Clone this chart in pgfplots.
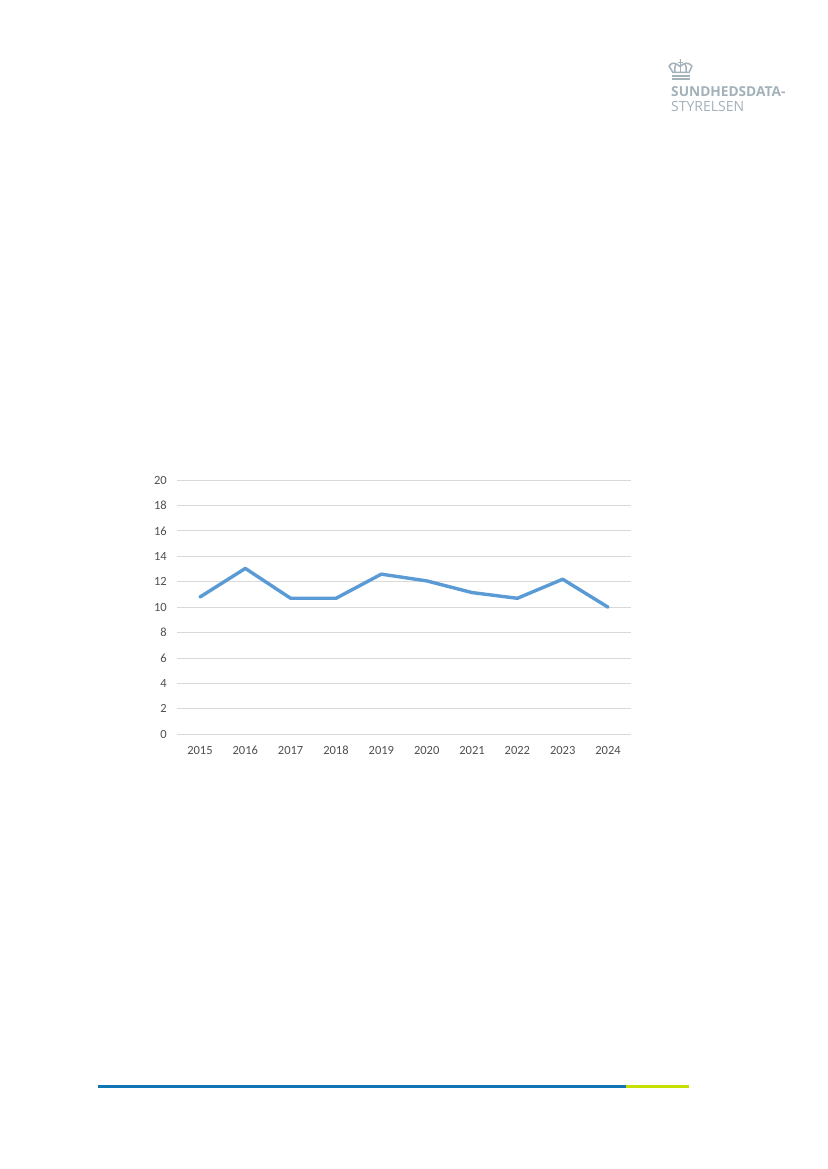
\documentclass[border=0pt]{standalone}
\usepackage{fontspec}
\setmainfont{Carlito}
\newfontfamily\logofont{Open Sans}
\usepackage{pgfplots}
\pgfplotsset{compat=1.18}
\definecolor{linjeblaa}{HTML}{5B9BD5}
\definecolor{gitter}{HTML}{D9D9D9}
\definecolor{ticktekst}{HTML}{505050}
\definecolor{logograa}{HTML}{A3B1BA}
\definecolor{sidefodblaa}{HTML}{0F75B5}
\definecolor{sidefodgroen}{HTML}{C4E000}
\begin{document}
\begin{tikzpicture}[x=1pt,y=1pt]
% page, 1px = 1pt
\path[fill=white] (0,0) rectangle (827,1169);
\begin{axis}[
	at={(177.3pt,434.7pt)},
	anchor=south west,
	scale only axis,
	width=453.4pt,
	height=254.2pt,
	xmin=-0.5, xmax=9.5,
	ymin=0, ymax=20,
	xtick={0,...,9},
	xticklabels={2015,2016,2017,2018,2019,2020,2021,2022,2023,2024},
	ytick={0,2,...,20},
	ymajorgrids,
	grid style={gitter, line width=1pt},
	axis line style={draw=none},
	major tick length=0pt,
	tick label style={font=\fontsize{12.5}{14}\selectfont, text=ticktekst},
	/pgf/number format/assume math mode=true,
	yticklabel style={xshift=-7pt},
	xticklabel style={yshift=-9pt, text height=8pt, text depth=0pt},
	clip=false,
]
\addplot [linjeblaa, line width=3.4pt, line join=round, line cap=round, mark=none]
	coordinates {
		(0,10.8) (1,13.05) (2,10.7) (3,10.7) (4,12.6)
		(5,12.07) (6,11.15) (7,10.7) (8,12.2) (9,10.0)
	};
\end{axis}
% logo
\node[anchor=west, inner sep=0pt, text=logograa, font=\logofont\bfseries\fontsize{13.7}{15}\selectfont] at (671,1077) {SUNDHEDSDATA-};
\node[anchor=west, inner sep=0pt, text=logograa, font=\logofont\fontsize{14}{15}\selectfont] at (671,1062) {STYRELSEN};
\begin{scope}[logograa, line width=1.5pt, line join=round]
	\draw (669,1103) -- (673,1096.5) -- (689,1096.5) -- (692,1103);
	\draw (669,1103) .. controls (672,1107.5) and (676,1106) .. (680,1102.5) .. controls (684,1106) and (688,1107.5) .. (692,1103);
	\draw (675,1097) .. controls (674,1100) and (675,1103) .. (676,1105);
	\draw (686,1097) .. controls (687,1100) and (686,1103) .. (685,1105);
	\draw (680.5,1097) -- (680.5,1108);
	\draw (678,1106.5) -- (683,1106.5);
	\draw[line width=1pt] (680.5,1108) -- (680.5,1110);
	\draw[line width=2pt] (672,1093) -- (690,1093);
	\draw[line width=1.6pt] (672,1090) -- (690,1090);
\end{scope}
% footer
\fill[sidefodblaa] (98,80.7) rectangle (626,83.7);
\fill[sidefodgroen] (626,80.7) rectangle (689,83.7);
\end{tikzpicture}
\end{document}
